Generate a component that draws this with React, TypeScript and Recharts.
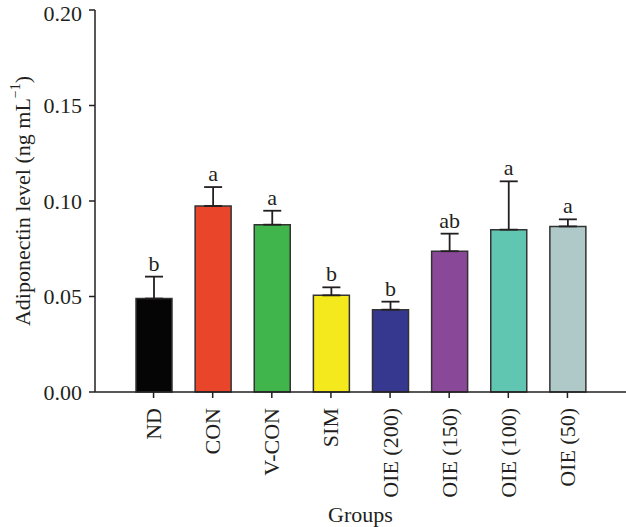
import React from "react";
import { BarChart, Bar, XAxis, YAxis, Cell, ErrorBar, LabelList } from "recharts";

const groups = ["ND", "CON", "V-CON", "SIM", "OIE (200)", "OIE (150)", "OIE (100)", "OIE (50)"];
const means = [0.0489, 0.0974, 0.0876, 0.0506, 0.0431, 0.0737, 0.085, 0.0867];
const sems = [0.0115, 0.0099, 0.0073, 0.0042, 0.0042, 0.0092, 0.0253, 0.0037];
const letters = ["b", "a", "a", "b", "b", "ab", "a", "a"];
const colors = ["#050505", "#E8452A", "#3FB54B", "#F3E91C", "#36388F", "#8A4898", "#60C5B1", "#AFC8C8"];
const yTicks = [0, 0.05, 0.1, 0.15, 0.2];

const data = groups.map((g, i) => ({ group: g, value: means[i], err: [0, sems[i]] }));

const FONT = "'Liberation Serif', 'DejaVu Serif', serif";
const INK = "#231f20";
const FS = 22;

const XTick = (props: any) => {
  const { x, y, payload } = props;
  return (
    <text
      x={x}
      y={y}
      transform={`rotate(-90, ${x}, ${y})`}
      textAnchor="end"
      dominantBaseline="central"
      fontFamily={FONT}
      fontSize={FS}
      fill={INK}
    >
      {payload.value}
    </text>
  );
};

const LetterLabel = (props: any) => {
  const { x, y, width, height, value, index } = props;
  const pxPerUnit = height / value;
  const top = y - sems[index] * pxPerUnit;
  return (
    <text x={x + width / 2} y={top - 6} textAnchor="middle" fontFamily={FONT} fontSize={FS} fill={INK}>
      {letters[index]}
    </text>
  );
};

const YLabel = (props: any) => {
  const vb = props.viewBox || {};
  const cx = 22;
  const cy = vb.y + vb.height / 2;
  return (
    <text
      x={cx}
      y={cy}
      transform={`rotate(-90, ${cx}, ${cy})`}
      textAnchor="middle"
      dominantBaseline="central"
      fontFamily={FONT}
      fontSize={FS}
      fill={INK}
    >
      Adiponectin level (ng mL
      <tspan dy={-7} fontSize={14}>−1</tspan>
      <tspan dy={7}>)</tspan>
    </text>
  );
};

const XLabel = (props: any) => {
  const vb = props.viewBox || {};
  return (
    <text x={vb.x + vb.width / 2} y={522} textAnchor="middle" fontFamily={FONT} fontSize={FS} fill={INK}>
      Groups
    </text>
  );
};

export default function App() {
  return (
    <div style={{ position: "absolute", left: 0, top: 0, background: "#fff" }}>
      <BarChart width={626} height={527} data={data} margin={{ top: 10, right: 0, left: 0, bottom: 0 }}>
        <XAxis
          dataKey="group"
          height={135}
          padding={{ left: 29, right: 29 }}
          interval={0}
          tick={<XTick />}
          tickSize={6}
          tickMargin={10}
          axisLine={{ stroke: INK, strokeWidth: 1.5 }}
          tickLine={{ stroke: INK, strokeWidth: 1.5 }}
          label={<XLabel />}
        />
        <YAxis
          width={95}
          domain={[0, 0.2]}
          ticks={yTicks}
          tickFormatter={(v: number) => v.toFixed(2)}
          tickSize={6}
          tickMargin={7}
          tick={{ fontFamily: FONT, fontSize: FS, fill: INK }}
          axisLine={{ stroke: INK, strokeWidth: 1.5 }}
          tickLine={{ stroke: INK, strokeWidth: 1.5 }}
          label={<YLabel />}
        />
        <Bar dataKey="value" barSize={36} stroke="#333" strokeWidth={1.5} isAnimationActive={false}>
          {data.map((d, i) => (
            <Cell key={d.group} fill={colors[i]} />
          ))}
          <ErrorBar dataKey="err" direction="y" width={9} stroke={INK} strokeWidth={1.8} isAnimationActive={false} />
          <LabelList dataKey="value" content={<LetterLabel />} />
        </Bar>
      </BarChart>
    </div>
  );
}
